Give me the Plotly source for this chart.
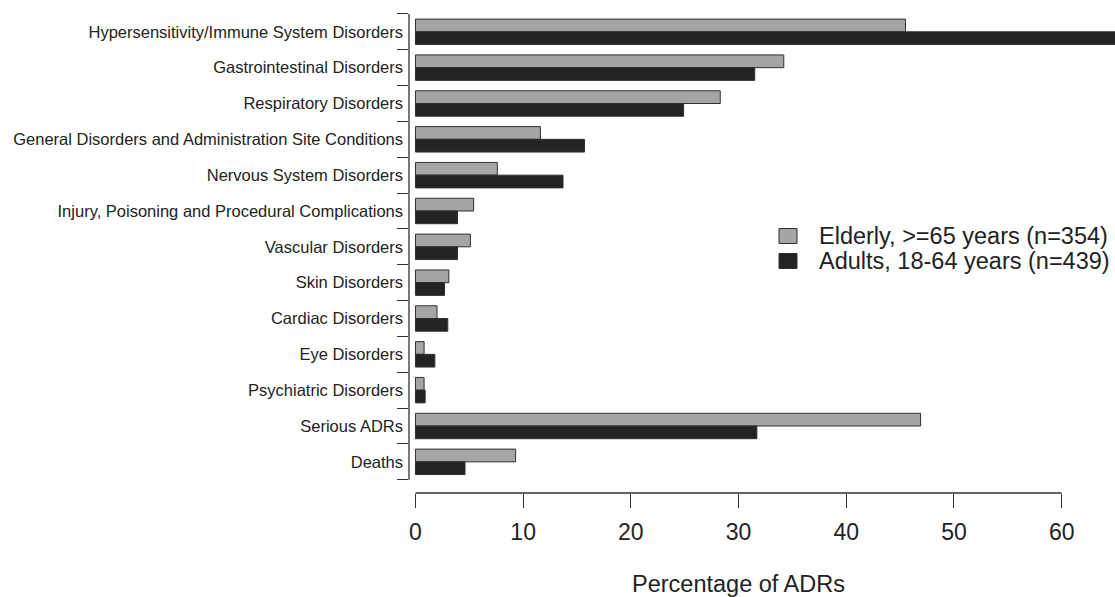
import plotly.graph_objects as go

categories = [
    "Hypersensitivity/Immune System Disorders",
    "Gastrointestinal Disorders",
    "Respiratory Disorders",
    "General Disorders and Administration Site Conditions",
    "Nervous System Disorders",
    "Injury, Poisoning and Procedural Complications",
    "Vascular Disorders",
    "Skin Disorders",
    "Cardiac Disorders",
    "Eye Disorders",
    "Psychiatric Disorders",
    "Serious ADRs",
    "Deaths",
]
elderly = [45.5, 34.2, 28.3, 11.6, 7.6, 5.4, 5.1, 3.1, 2.0, 0.8, 0.8, 46.9, 9.3]
adults = [66.3, 31.5, 24.9, 15.7, 13.7, 3.9, 3.9, 2.7, 3.0, 1.8, 0.9, 31.7, 4.6]
x_ticks = [0, 10, 20, 30, 40, 50, 60]
series_names = ["Elderly, >=65 years (n=354)", "Adults, 18-64 years (n=439)"]
series_colors = ["#a5a5a5", "#232323"]

ypos = list(range(len(categories)))
FONT = "Liberation Sans, Arial, sans-serif"
INK = "#303030"
W, H = 1115, 597
ML, MR, MT, MB = 409, 0, 0, 104
PW, PH = W - ML - MR, H - MT - MB

def px_x(px):
    return (px - ML) / PW

def px_y(py):
    return 1 - (py - MT) / PH

fig = go.Figure()
for name, vals, col in zip(series_names, [elderly, adults], series_colors):
    fig.add_trace(go.Bar(
        y=ypos, x=vals, orientation="h", name=name,
        marker=dict(color=col, line=dict(color=INK, width=1)),
    ))

n = len(categories)
fig.update_layout(
    width=W, height=H,
    margin=dict(l=ML, r=MR, t=MT, b=MB),
    paper_bgcolor="white", plot_bgcolor="white",
    barmode="group", bargap=0.29, bargroupgap=0,
    font=dict(family=FONT, color="#222"),
    showlegend=False,
    xaxis=dict(
        range=[-0.6, 64.95],
        tickmode="array", tickvals=x_ticks, ticktext=[str(v) for v in x_ticks],
        ticks="outside", ticklen=14, tickwidth=1.3, tickcolor=INK,
        tickfont=dict(size=23, family=FONT, color="#222"),
        ticklabelstandoff=4,
        showline=False, showgrid=False, zeroline=False,
    ),
    yaxis=dict(
        range=[12.87, -0.888],
        tickmode="array", tickvals=ypos, ticktext=categories,
        ticks="", tickfont=dict(size=16.5, family=FONT, color="#222"),
        ticklabelstandoff=5,
        minor=dict(tickmode="linear", tick0=-0.5, dtick=1, ticks="outside",
                   ticklen=11, tickwidth=1.3, tickcolor=INK),
        showline=False, showgrid=False, zeroline=False,
    ),
)

# axis lines drawn R-style: spanning only first to last tick
fig.add_shape(type="line", xref="x", yref="paper", x0=x_ticks[0], x1=x_ticks[-1],
              y0=0, y1=0, line=dict(color=INK, width=1.3))
fig.add_shape(type="line", xref="paper", yref="y", x0=0, x1=0,
              y0=-0.5, y1=n - 0.5, line=dict(color=INK, width=1.3))

# legend (R-style, right side of plot region)
row_y = [236, 261]
for name, col, ry in zip(series_names, series_colors, row_y):
    fig.add_shape(type="rect", xref="paper", yref="paper",
                  x0=px_x(779), x1=px_x(797), y0=px_y(ry + 7.5), y1=px_y(ry - 7.5),
                  fillcolor=col, line=dict(color=INK, width=1))
    fig.add_annotation(text=name, xref="paper", yref="paper",
                       x=px_x(817), y=px_y(ry), xanchor="left", yanchor="middle",
                       showarrow=False, font=dict(size=23.5, family=FONT, color="#222"))

fig.add_annotation(
    text="Percentage of ADRs", x=(x_ticks[0] + x_ticks[-1]) / 2, xref="x",
    y=px_y(584), yref="paper", yanchor="middle",
    showarrow=False, font=dict(size=23.5, family=FONT, color="#222"),
)

fig.write_html("out.html", config={"displayModeBar": False},
               post_script="document.body.style.margin='0px';")
